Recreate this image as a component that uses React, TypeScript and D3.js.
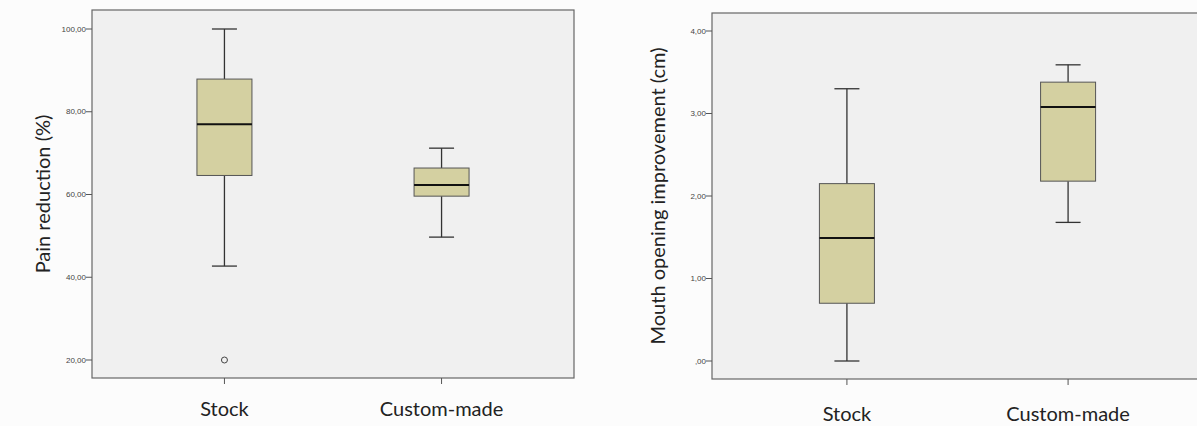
import * as d3 from 'd3';

const categories = ['Stock', 'Custom-made'];

// pain reduction (%): [min, q1, median, q3, max]
const painStats = [
	[42.7, 64.6, 77.0, 87.9, 100],
	[49.7, 59.6, 62.3, 66.4, 71.2],
];
const painOutliers = [[20], []];
const painTicks = [20, 40, 60, 80, 100];

// mouth opening improvement (cm)
const mouthStats = [
	[0, 0.70, 1.49, 2.15, 3.30],
	[1.68, 2.18, 3.08, 3.38, 3.59],
];
const mouthOutliers = [[], []];
const mouthTicks = [0, 1, 2, 3, 4];

const fmt = (v) => {
	const s = d3.format('.2f')(v).replace('.', ',');
	return s.startsWith('0,') ? s.slice(1) : s;
};

function Panel({ frame, yDomain, yRange, stats, outliers, ticks, title, titleX, labelY }) {
	const { left, top, right, bottom } = frame;
	const x = d3.scalePoint().domain(categories).range([left, right]).padding(0.61);
	const y = d3.scaleLinear().domain(yDomain).range(yRange);
	const boxW = 55;
	const capW = 25;
	const midY = (top + bottom) / 2;

	return (
		<g>
			<rect x={left} y={top} width={right - left} height={bottom - top} fill='#f0f0f0' stroke='#666' strokeWidth={1.2} />
			{ticks.map(t => (
				<g key={t}>
					<line x1={left - 6} x2={left} y1={y(t)} y2={y(t)} stroke='#555' strokeWidth={1} />
					<text x={left - 6} y={y(t)} dy='0.32em' textAnchor='end' fontSize={8} fontFamily='Liberation Sans, Arial, sans-serif' fill='#444'>{fmt(t)}</text>
				</g>
			))}
			{categories.map((c, i) => {
				const [mn, q1, md, q3, mx] = stats[i];
				const cx = x(c);
				return (
					<g key={c}>
						<line x1={cx} x2={cx} y1={bottom} y2={bottom + 6} stroke='#555' strokeWidth={1} />
						<line x1={cx} x2={cx} y1={y(mx)} y2={y(q3)} stroke='#333' strokeWidth={1.3} />
						<line x1={cx} x2={cx} y1={y(q1)} y2={y(mn)} stroke='#333' strokeWidth={1.3} />
						<line x1={cx - capW / 2} x2={cx + capW / 2} y1={y(mx)} y2={y(mx)} stroke='#333' strokeWidth={1.3} />
						<line x1={cx - capW / 2} x2={cx + capW / 2} y1={y(mn)} y2={y(mn)} stroke='#333' strokeWidth={1.3} />
						<rect x={cx - boxW / 2} y={y(q3)} width={boxW} height={y(q1) - y(q3)} fill='#d4d0a1' stroke='#555' strokeWidth={1} />
						<line x1={cx - boxW / 2} x2={cx + boxW / 2} y1={y(md)} y2={y(md)} stroke='#111' strokeWidth={2} />
						{outliers[i].map((o, j) => (
							<circle key={j} cx={cx} cy={y(o)} r={3} fill='none' stroke='#444' strokeWidth={1} />
						))}
						<text x={cx} y={labelY} textAnchor='middle' fontSize={20} fontFamily='Lato, sans-serif' fill='#222'>{c}</text>
					</g>
				);
			})}
			<text transform={`translate(${titleX},${midY}) rotate(-90)`} textAnchor='middle' dy='0.35em' fontSize={20} fontFamily='Lato, sans-serif' fill='#222'>{title}</text>
		</g>
	);
}

export default function App() {
	return (
		<svg width={1197} height={426} style={{ position: 'absolute', left: 0, top: 0, background: '#fcfcfc' }}>
			<Panel
				frame={{ left: 92, top: 10, right: 574, bottom: 378 }}
				yDomain={[20, 100]} yRange={[360, 29]}
				stats={painStats} outliers={painOutliers} ticks={painTicks}
				title='Pain reduction (%)' titleX={43} labelY={416}
			/>
			<Panel
				frame={{ left: 712, top: 13, right: 1203, bottom: 379 }}
				yDomain={[0, 4]} yRange={[361, 31]}
				stats={mouthStats} outliers={mouthOutliers} ticks={mouthTicks}
				title='Mouth opening improvement (cm)' titleX={658} labelY={421}
			/>
		</svg>
	);
}
